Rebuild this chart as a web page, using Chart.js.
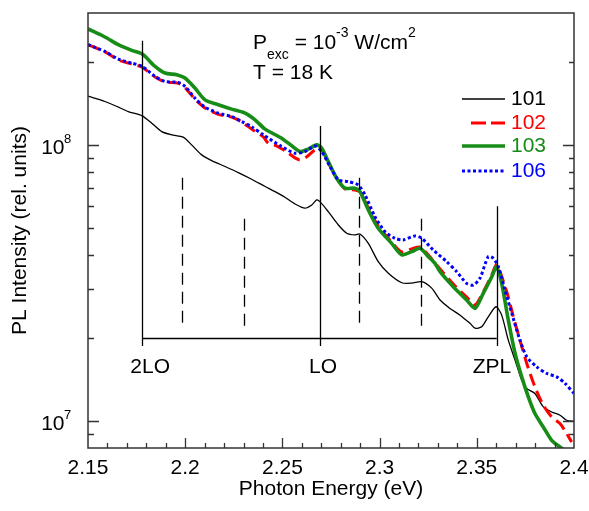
<!DOCTYPE html>
<html>
<head>
<meta charset="utf-8">
<script src="https://cdn.jsdelivr.net/npm/chart.js@4.4.1/dist/chart.umd.min.js"></script>
<style>
  html, body { margin: 0; padding: 0; background: #fff; }
  #wrap { width: 589px; height: 511px; }
</style>
</head>
<body>
<div id="wrap"><canvas id="plChart"></canvas></div>
<script>
// PL spectra (energy in eV, intensity in rel. units)
const energy101 = [2.150, 2.1587, 2.1656, 2.1707, 2.1779, 2.1828, 2.1879, 2.1931, 2.1990, 2.2033, 2.2085, 2.2136, 2.2205, 2.2273, 2.2342, 2.2411, 2.2462, 2.2513, 2.2565, 2.2616, 2.2651, 2.2676, 2.2693, 2.2736, 2.2788, 2.2831, 2.2873, 2.2899, 2.2942, 2.2993, 2.3045, 2.3114, 2.3165, 2.3217, 2.3268, 2.3311, 2.3362, 2.3414, 2.3465, 2.3491, 2.3525, 2.3559, 2.3599, 2.3628, 2.3662, 2.3697, 2.3731, 2.3757, 2.3799, 2.3842, 2.3885, 2.3928, 2.3962, 2.4000];
const pl101 = [1.50e8, 1.435e8, 1.37e8, 1.32e8, 1.274e8, 1.198e8, 1.117e8, 1.087e8, 1.066e8, 1.0e8, 9.2e7, 8.77e7, 8.35e7, 7.94e7, 7.51e7, 7.07e7, 6.77e7, 6.46e7, 6.11e7, 5.90e7, 6.06e7, 6.32e7, 6.23e7, 5.73e7, 5.13e7, 4.79e7, 4.72e7, 4.76e7, 4.40e7, 3.78e7, 3.43e7, 3.17e7, 3.16e7, 3.20e7, 3.03e7, 2.745e7, 2.56e7, 2.42e7, 2.26e7, 2.17e7, 2.197e7, 2.387e7, 2.595e7, 2.42e7, 1.965e7, 1.663e7, 1.408e7, 1.314e7, 1.26e7, 1.127e7, 1.08e7, 1.051e7, 1.008e7, 1.0e7];

const energy102 = [2.150, 2.1587, 2.1656, 2.1725, 2.1779, 2.1845, 2.1896, 2.1965, 2.1999, 2.2050, 2.2102, 2.2170, 2.2239, 2.2291, 2.2342, 2.2402, 2.2427, 2.2470, 2.2522, 2.2565, 2.2591, 2.2625, 2.2668, 2.2702, 2.2736, 2.2779, 2.2822, 2.2873, 2.2899, 2.2942, 2.2993, 2.3062, 2.3114, 2.3165, 2.3208, 2.3251, 2.3311, 2.3379, 2.3448, 2.3491, 2.3533, 2.3577, 2.3602, 2.3654, 2.3688, 2.3722, 2.3757, 2.3799, 2.3842, 2.3885, 2.3928, 2.3962, 2.3988];
const pl102 = [2.303e8, 2.17e8, 2.03e8, 1.96e8, 1.91e8, 1.76e8, 1.69e8, 1.67e8, 1.61e8, 1.465e8, 1.36e8, 1.29e8, 1.26e8, 1.21e8, 1.14e8, 1.069e8, 1.014e8, 9.92e7, 9.43e7, 8.97e7, 8.82e7, 9.05e7, 9.59e7, 9.59e7, 8.61e7, 7.59e7, 6.93e7, 6.87e7, 6.76e7, 5.91e7, 5.09e7, 4.45e7, 4.096e7, 4.20e7, 4.27e7, 3.996e7, 3.555e7, 3.135e7, 2.813e7, 2.633e7, 2.934e7, 3.38e7, 3.674e7, 2.94e7, 2.387e7, 1.965e7, 1.618e7, 1.331e7, 1.143e7, 1.036e7, 9.81e6, 9.02e6, 8.41e6];

const energy103 = [2.150, 2.1587, 2.1656, 2.1725, 2.1779, 2.1845, 2.1896, 2.1956, 2.1999, 2.2050, 2.2102, 2.2170, 2.2239, 2.2308, 2.2359, 2.2411, 2.2496, 2.2548, 2.2591, 2.2633, 2.2676, 2.2702, 2.2736, 2.2779, 2.2822, 2.2873, 2.2899, 2.2942, 2.2993, 2.3062, 2.3114, 2.3165, 2.3208, 2.3251, 2.3285, 2.3311, 2.3379, 2.3448, 2.3491, 2.3533, 2.3577, 2.3602, 2.3628, 2.3662, 2.3697, 2.3731, 2.3765, 2.3799, 2.3842, 2.3885, 2.3928, 2.3954];
const pl103 = [2.626e8, 2.456e8, 2.303e8, 2.196e8, 2.131e8, 1.922e8, 1.819e8, 1.793e8, 1.745e8, 1.605e8, 1.455e8, 1.396e8, 1.347e8, 1.303e8, 1.232e8, 1.14e8, 1.057e8, 9.92e7, 9.46e7, 9.65e7, 1.0e8, 9.73e7, 8.70e7, 7.57e7, 6.97e7, 6.97e7, 6.77e7, 5.81e7, 4.99e7, 4.40e7, 4.0e7, 4.107e7, 4.225e7, 3.94e7, 3.727e7, 3.475e7, 3.066e7, 2.745e7, 2.56e7, 2.90e7, 3.333e7, 3.623e7, 3.153e7, 2.323e7, 1.759e7, 1.447e7, 1.225e7, 1.066e7, 9.53e6, 8.53e6, 8.07e6, 7.85e6];

const energy106 = [2.150, 2.1587, 2.1656, 2.1725, 2.1779, 2.1845, 2.1896, 2.1965, 2.1999, 2.2050, 2.2102, 2.2170, 2.2239, 2.2291, 2.2342, 2.2402, 2.2496, 2.2565, 2.2616, 2.2668, 2.2702, 2.2745, 2.2788, 2.2839, 2.2890, 2.2925, 2.2976, 2.3028, 2.3079, 2.3122, 2.3182, 2.3217, 2.3276, 2.3345, 2.3397, 2.3448, 2.3482, 2.3516, 2.3559, 2.3585, 2.3611, 2.3645, 2.3680, 2.3722, 2.3757, 2.3808, 2.3860, 2.3911, 2.3954, 2.4000];
const pl106 = [2.303e8, 2.178e8, 2.044e8, 1.977e8, 1.922e8, 1.768e8, 1.696e8, 1.682e8, 1.627e8, 1.476e8, 1.369e8, 1.303e8, 1.266e8, 1.214e8, 1.162e8, 1.087e8, 9.86e7, 9.33e7, 9.46e7, 9.9e7, 9.46e7, 8.35e7, 7.47e7, 7.36e7, 7.16e7, 6.59e7, 5.50e7, 4.85e7, 4.59e7, 4.53e7, 4.68e7, 4.59e7, 4.165e7, 3.78e7, 3.475e7, 3.153e7, 3.11e7, 3.289e7, 3.94e7, 3.886e7, 3.623e7, 2.983e7, 2.455e7, 1.965e7, 1.71e7, 1.573e7, 1.489e7, 1.447e7, 1.37e7, 1.26e7];

const sampleNames = ['101', '102', '103', '106'];
const yTickValues = [8e6, 9e6, 1e7, 2e7, 3e7, 4e7, 5e7, 6e7, 7e7, 8e7, 9e7, 1e8, 2e8, 3e8];

// phonon replica markers (eV / rel. units)
const phononLabels = ['2LO', 'LO', 'ZPL'];
const phononEnergies = [2.178, 2.2693, 2.3602];
const phononTops = [2.38e8, 1.17e8, 6.0e7];
const labelEnergies = [2.182, 2.2709, 2.3578];
const labelLevel = 1.57e7;
const bracketLevel = 2.0e7;
const bracketFoot = 1.87e7;
const dashedEnergies = [2.1985, 2.2302, 2.2896, 2.3213];
const dashedTops = [7.6e7, 5.4e7, 7.6e7, 5.4e7];
const dashedBottom = 2.15e7;

const FONT = '"Liberation Sans", Arial, Helvetica, sans-serif';
const AXIS = '#333';

const toPoints = (xs, ys) => xs.map((x, i) => ({ x: x, y: ys[i] }));

const seriesStyle = [
  { color: '#000000', width: 1.3, dash: [] },
  { color: '#ff0000', width: 3, dash: [12, 6] },
  { color: '#178c17', width: 3.6, dash: [] },
  { color: '#0000ff', width: 3, dash: [3, 2.5] }
];

const decorations = {
  id: 'decorations',
  afterDatasetsDraw(chart) {
    const { ctx, chartArea: a, scales: { x, y } } = chart;
    ctx.save();

    // phonon bracket
    ctx.strokeStyle = '#000';
    ctx.lineWidth = 1.3;
    ctx.setLineDash([]);
    ctx.beginPath();
    for (let i = 0; i < phononEnergies.length; i++) {
      const px = Math.round(x.getPixelForValue(phononEnergies[i])) + 0.5;
      ctx.moveTo(px, y.getPixelForValue(phononTops[i]));
      ctx.lineTo(px, y.getPixelForValue(bracketFoot));
    }
    const by = Math.round(y.getPixelForValue(bracketLevel)) + 0.5;
    ctx.moveTo(x.getPixelForValue(phononEnergies[0]), by);
    ctx.lineTo(x.getPixelForValue(phononEnergies[phononEnergies.length - 1]), by);
    ctx.stroke();

    ctx.setLineDash([12, 7]);
    ctx.beginPath();
    for (let i = 0; i < dashedEnergies.length; i++) {
      const px = Math.round(x.getPixelForValue(dashedEnergies[i])) + 0.5;
      ctx.moveTo(px, y.getPixelForValue(dashedTops[i]));
      ctx.lineTo(px, y.getPixelForValue(dashedBottom));
    }
    ctx.stroke();
    ctx.setLineDash([]);

    ctx.fillStyle = '#000';
    ctx.font = '21px ' + FONT;
    ctx.textAlign = 'center';
    ctx.textBaseline = 'middle';
    for (let i = 0; i < phononLabels.length; i++) {
      ctx.fillText(phononLabels[i], x.getPixelForValue(labelEnergies[i]), y.getPixelForValue(labelLevel));
    }

    // frame
    ctx.strokeStyle = AXIS;
    ctx.lineWidth = 1.5;
    ctx.strokeRect(a.left, a.top, a.right - a.left, a.bottom - a.top);

    // inward ticks
    ctx.lineWidth = 1.3;
    ctx.beginPath();
    x.ticks.forEach(t => {
      const k = Math.round(t.value * 100);
      if (k <= 215 || k >= 240) return;
      const px = Math.round(x.getPixelForValue(t.value)) + 0.5;
      const len = k % 5 === 0 ? 10 : 5;
      ctx.moveTo(px, a.bottom);
      ctx.lineTo(px, a.bottom - len);
    });
    y.ticks.forEach(t => {
      const py = Math.round(y.getPixelForValue(t.value)) + 0.5;
      if (py <= a.top + 1 || py >= a.bottom - 1) return;
      const major = t.value === 1e7 || t.value === 1e8;
      ctx.moveTo(a.left, py);
      ctx.lineTo(a.left + (major ? 11 : 6), py);
      ctx.moveTo(a.right, py);
      ctx.lineTo(a.right - (major ? 11 : 5), py);
    });
    ctx.stroke();

    // y tick labels 10^n
    ctx.fillStyle = '#000';
    ctx.textBaseline = 'alphabetic';
    [[1e7, '7'], [1e8, '8']].forEach(([v, e]) => {
      const py = y.getPixelForValue(v);
      ctx.font = '21px ' + FONT;
      ctx.textAlign = 'right';
      ctx.fillText('10', 64.5, py + 9);
      ctx.font = '13px ' + FONT;
      ctx.textAlign = 'left';
      ctx.fillText(e, 64, py - 2);
    });

    // conditions text
    let cx = 253;
    const put = (txt, size, base) => {
      ctx.font = size + 'px ' + FONT;
      ctx.fillText(txt, cx, base);
      cx += ctx.measureText(txt).width;
    };
    ctx.textAlign = 'left';
    put('P', 21, 48.5);
    put('exc', 14, 59);
    put(' = 10', 21, 48.5);
    put('-3', 14, 37);
    put(' W/cm', 21, 48.5);
    put('2', 14, 37);
    ctx.font = '21px ' + FONT;
    ctx.fillText('T = 18 K', 253, 78.5);

    // legend
    const rows = [99, 123, 146, 171];
    sampleNames.forEach((name, i) => {
      const s = seriesStyle[i];
      ctx.strokeStyle = s.color;
      ctx.lineWidth = s.width;
      ctx.setLineDash(i === 1 ? [15, 5] : s.dash);
      ctx.beginPath();
      ctx.moveTo(i === 1 ? 471 : 462, rows[i]);
      ctx.lineTo(505, rows[i]);
      ctx.stroke();
      ctx.setLineDash([]);
      ctx.fillStyle = s.color;
      ctx.font = '21px ' + FONT;
      ctx.textBaseline = 'middle';
      ctx.fillText(name, 511, rows[i]);
    });

    ctx.restore();
  }
};

const seriesData = [
  toPoints(energy101, pl101),
  toPoints(energy102, pl102),
  toPoints(energy103, pl103),
  toPoints(energy106, pl106)
];

new Chart(document.getElementById('plChart'), {
  type: 'line',
  data: {
    datasets: sampleNames.map((name, i) => ({
      label: name,
      data: seriesData[i],
      borderColor: seriesStyle[i].color,
      borderWidth: seriesStyle[i].width,
      borderDash: seriesStyle[i].dash,
      borderCapStyle: 'butt',
      borderJoinStyle: 'round',
      pointRadius: 0,
      fill: false,
      tension: 0.25,
      order: 4 - i
    }))
  },
  options: {
    animation: false,
    responsive: true,
    maintainAspectRatio: false,
    devicePixelRatio: 1,
    layout: { padding: { top: 13, right: 15, left: 0, bottom: 0 } },
    plugins: { legend: { display: false }, tooltip: { enabled: false } },
    scales: {
      x: {
        type: 'linear',
        min: 2.15,
        max: 2.4,
        afterFit(s) { s.height = 63; s.paddingLeft = 0; s.paddingRight = 0; },
        grid: { display: false, drawTicks: false },
        border: { display: false },
        ticks: {
          stepSize: 0.01,
          autoSkip: false,
          maxRotation: 0,
          padding: 8,
          color: '#000',
          font: { family: FONT, size: 21 },
          callback(v) {
            const k = Math.round(v * 100);
            return k % 5 === 0 ? String(k / 100) : '';
          }
        },
        title: {
          display: true,
          text: 'Photon Energy (eV)',
          color: '#000',
          font: { family: FONT, size: 21 },
          padding: { top: 0, bottom: 9 }
        }
      },
      y: {
        type: 'logarithmic',
        min: 8e6,
        max: 3e8,
        afterFit(s) { s.width = 88; s.paddingTop = 0; s.paddingBottom = 0; },
        afterBuildTicks(s) { s.ticks = yTickValues.map(v => ({ value: v })); },
        grid: { display: false, drawTicks: false },
        border: { display: false },
        ticks: { display: false },
        title: {
          display: true,
          text: 'PL Intensity (rel. units)',
          color: '#000',
          font: { family: FONT, size: 21 },
          padding: { top: 8, bottom: 0 }
        }
      }
    }
  },
  plugins: [decorations]
});
</script>
</body>
</html>
